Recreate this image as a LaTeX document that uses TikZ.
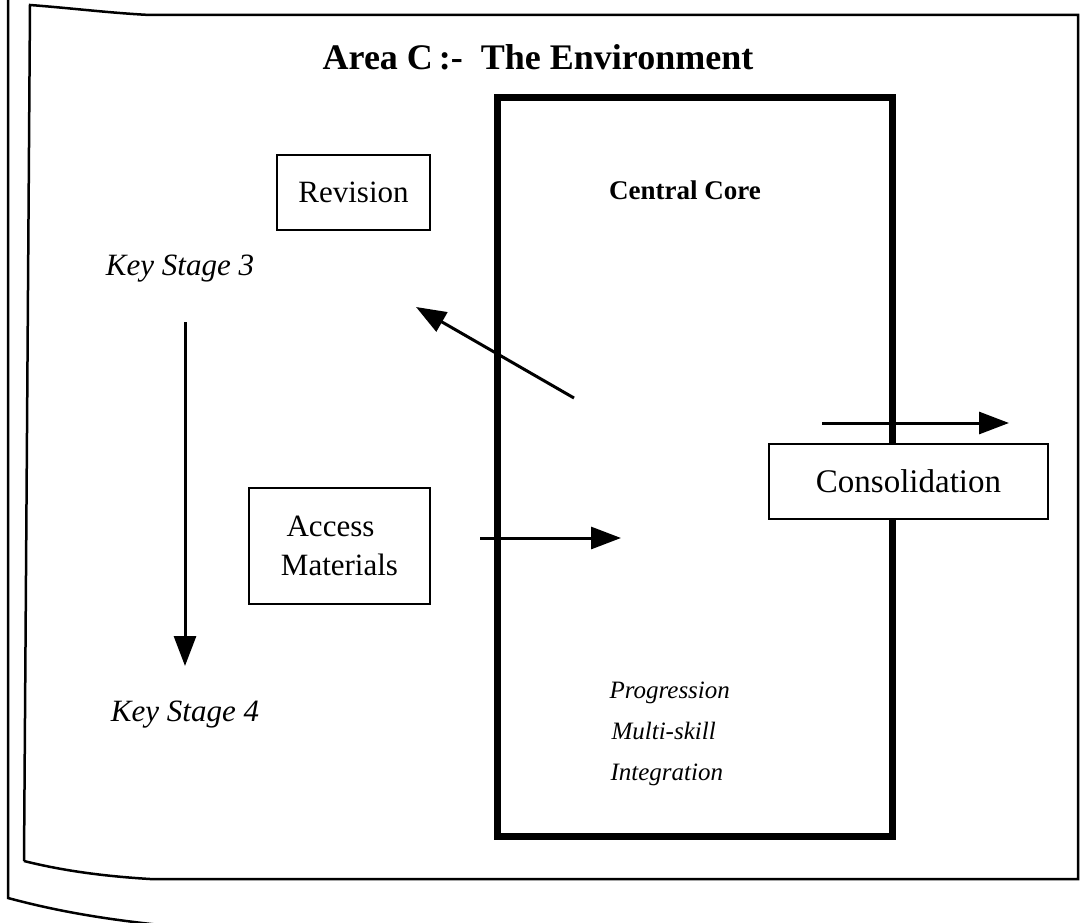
\documentclass[tikz,border=0pt]{standalone}
\usepackage{fontspec}
\setmainfont{Liberation Serif}
\usetikzlibrary{arrows.meta}
\begin{document}
\begin{tikzpicture}[x=1pt,y=-1pt,
  frame/.style={line width=2.5pt, line join=miter},
  box/.style={draw, line width=2pt, fill=white, inner sep=0pt},
  core/.style={draw, line width=7pt, inner sep=0pt},
  arr/.style={line width=3pt, -{Triangle[length=30pt,width=22pt]}},
  reg/.style={font=\fontsize{31}{39}\selectfont},
  regc/.style={font=\fontsize{33}{39}\selectfont},
  ital/.style={font=\fontsize{31}{40}\selectfont\itshape},
  ital2/.style={font=\fontsize{25}{41}\selectfont\itshape, align=left},
  ttl/.style={font=\fontsize{36}{40}\selectfont\bfseries},
  sub/.style={font=\fontsize{27}{30}\selectfont\bfseries}
]
\useasboundingbox (0,0) rectangle (1090,923);
\clip (0,0) rectangle (1090,923);
% page frames
\draw[frame] (8,-5) -- (8,898) .. controls (60,912) and (110,920) .. (170,926);
\draw[frame] (24,861) -- (30,5) .. controls (70,8) and (110,13) .. (150,15) -- (1078,15)
  -- (1078,879) -- (150,879) .. controls (100,876) and (60,870) .. (24,861);
% title
\node[ttl] (title) at (538,57) {Area C\,:-\ \ The Environment};
% central core
\node[core, minimum width=395pt, minimum height=738pt] (core) at (694.5,467) {};
\node[sub] (coretitle) at (685,190) {Central Core};
\node[ital2, anchor=west] (prog) at (606,734) {Progression\\ \hspace*{2pt}Multi-skill\\ \hspace*{1pt}Integration};
% boxes
\node[box, reg, minimum width=153pt, minimum height=75pt] (rev) at (353.5,192.5) {Revision};
\node[box, reg, minimum width=181pt, minimum height=116pt, align=center] (acc) at (339.5,546) {\hspace*{-18pt}Access\\Materials};
\node[box, regc, minimum width=279pt, minimum height=75pt] (cons) at (908.5,481) {Consolidation};
% key stages
\node[ital] (ks3) at (180,269) {Key Stage 3};
\node[ital] (ks4) at (185,715) {Key Stage 4};
% arrow coordinates
\coordinate (ksa) at (185,322);
\coordinate (ksb) at (185,666);
\coordinate (reva) at (574,398);
\coordinate (revb) at (416,307);
\coordinate (acca) at (480,538);
\coordinate (accb) at (621,538);
\coordinate (consa) at (822,423);
\coordinate (consb) at (1009,423);
\draw[arr] (ksa) -- (ksb);
\draw[arr] (reva) -- (revb);
\draw[arr] (acca) -- (accb);
\draw[arr] (consa) -- (consb);
\end{tikzpicture}
\end{document}
